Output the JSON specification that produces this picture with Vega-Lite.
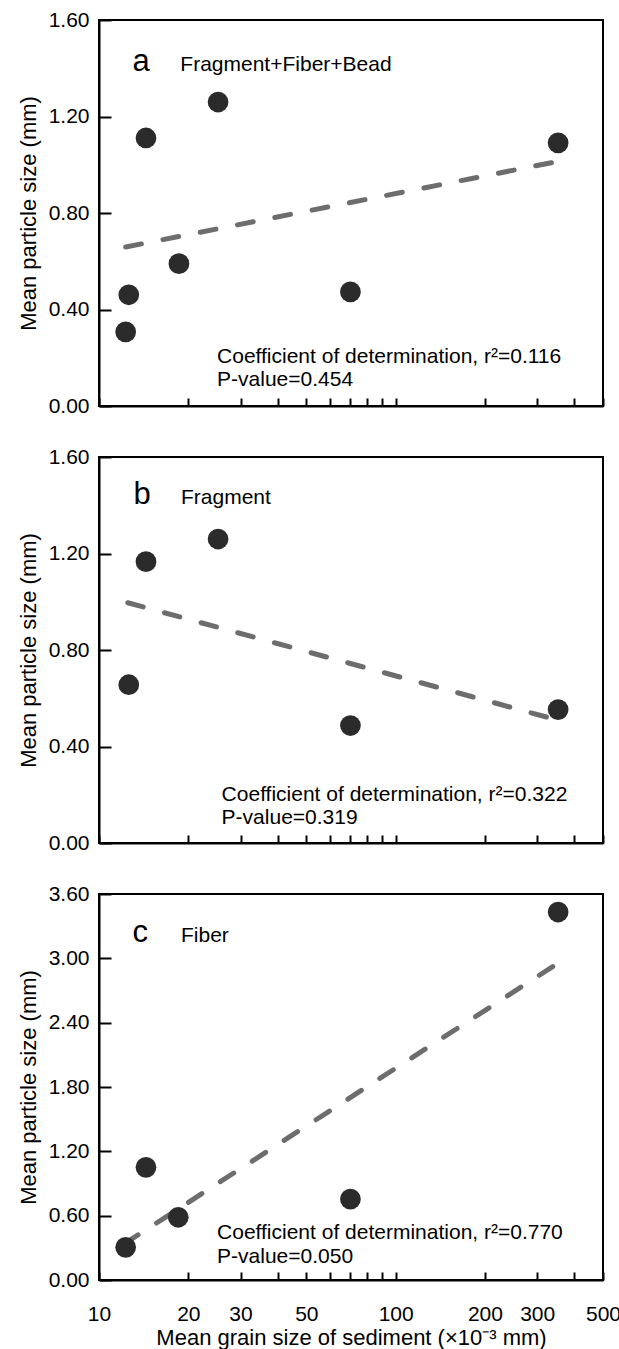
{
  "$schema": "https://vega.github.io/schema/vega-lite/v6.json",
  "padding": {"left": 16, "top": 8, "right": 5, "bottom": 5},
  "background": "white",
  "config": {
    "font": "Liberation Sans",
    "view": {"stroke": "black", "strokeWidth": 2},
    "axis": {
      "labelFont": "Liberation Sans", "labelFontSize": 21, "labelColor": "black",
      "titleFont": "Liberation Sans", "titleFontSize": 22, "titleFontWeight": "normal", "titleColor": "black",
      "domainColor": "black", "domainWidth": 2, "tickColor": "black", "tickWidth": 2, "grid": false
    },
    "concat": {"spacing": 28}
  },
  "datasets": {
    "points": [
      {"panel": "a", "x": 12.3, "y": 0.307},
      {"panel": "a", "x": 12.6, "y": 0.461},
      {"panel": "a", "x": 14.4, "y": 1.111},
      {"panel": "a", "x": 18.6, "y": 0.590},
      {"panel": "a", "x": 25.2, "y": 1.260},
      {"panel": "a", "x": 70.4, "y": 0.473},
      {"panel": "a", "x": 353, "y": 1.091},
      {"panel": "b", "x": 12.6, "y": 0.656},
      {"panel": "b", "x": 14.4, "y": 1.166},
      {"panel": "b", "x": 25.2, "y": 1.260},
      {"panel": "b", "x": 70.4, "y": 0.487},
      {"panel": "b", "x": 353, "y": 0.553},
      {"panel": "c", "x": 12.3, "y": 0.305},
      {"panel": "c", "x": 14.4, "y": 1.051},
      {"panel": "c", "x": 18.5, "y": 0.585},
      {"panel": "c", "x": 70.4, "y": 0.755},
      {"panel": "c", "x": 353, "y": 3.432}
    ],
    "fits": [
      {"panel": "a", "x": 12.3, "y": 0.659},
      {"panel": "a", "x": 353, "y": 1.014},
      {"panel": "b", "x": 12.5, "y": 0.996},
      {"panel": "b", "x": 353, "y": 0.509},
      {"panel": "c", "x": 12.2, "y": 0.339},
      {"panel": "c", "x": 353, "y": 2.956}
    ],
    "labels": [
      {"panel": "a", "kind": "letter", "x": 12.98, "y": 1.39, "text": "a"},
      {"panel": "a", "kind": "note", "x": 18.8, "y": 1.39, "text": "Fragment+Fiber+Bead"},
      {"panel": "a", "kind": "note", "x": 25.0, "y": 0.1795, "text": "Coefficient of determination, r²=0.116"},
      {"panel": "a", "kind": "note", "x": 25.0, "y": 0.083, "text": "P-value=0.454"},
      {"panel": "b", "kind": "letter", "x": 13.06, "y": 1.407, "text": "b"},
      {"panel": "b", "kind": "note", "x": 18.9, "y": 1.407, "text": "Fragment"},
      {"panel": "b", "kind": "note", "x": 25.9, "y": 0.1736, "text": "Coefficient of determination, r²=0.322"},
      {"panel": "b", "kind": "note", "x": 25.9, "y": 0.0772, "text": "P-value=0.319"},
      {"panel": "c", "kind": "letter", "x": 12.98, "y": 3.15, "text": "c"},
      {"panel": "c", "kind": "note", "x": 18.9, "y": 3.15, "text": "Fiber"},
      {"panel": "c", "kind": "note", "x": 25.0, "y": 0.382, "text": "Coefficient of determination, r²=0.770"},
      {"panel": "c", "kind": "note", "x": 25.0, "y": 0.1585, "text": "P-value=0.050"}
    ]
  },
  "vconcat": [
    {
      "width": 504, "height": 386,
      "encoding": {
        "x": {"field": "x", "type": "quantitative", "scale": {"type": "log", "domain": [10, 500], "nice": false},
          "axis": {"values": [10,20,30,40,50,60,70,80,90,100,200,300,400,500], "labels": false, "title": null, "tickSize": -8,
            "encode": {"ticks": {"update": {"y2": {"signal": "datum.value === 100 ? -12 : -8"}}}}}},
        "y": {"field": "y", "type": "quantitative", "scale": {"domain": [0, 1.6], "nice": false, "zero": false},
          "axis": {"values": [0, 0.4, 0.8, 1.2, 1.6], "format": ".2f", "title": "Mean particle size (mm)", "tickSize": -12, "labelPadding": 22, "titlePadding": 8}}
      },
      "layer": [
        {"data": {"name": "fits"}, "transform": [{"filter": "datum.panel == 'a'"}],
          "mark": {"type": "line", "color": "#6d6d6d", "strokeWidth": 5, "strokeDash": [16, 22], "strokeCap": "round"}},
        {"data": {"name": "points"}, "transform": [{"filter": "datum.panel == 'a'"}],
          "mark": {"type": "circle", "size": 430, "color": "#2b2b2b", "opacity": 1}},
        {"data": {"name": "labels"}, "transform": [{"filter": "datum.panel == 'a' && datum.kind == 'letter'"}],
          "mark": {"type": "text", "align": "left", "baseline": "alphabetic", "fontSize": 31, "font": "Liberation Sans", "color": "black"},
          "encoding": {"text": {"field": "text"}}},
        {"data": {"name": "labels"}, "transform": [{"filter": "datum.panel == 'a' && datum.kind == 'note'"}],
          "mark": {"type": "text", "align": "left", "baseline": "alphabetic", "fontSize": 21, "font": "Liberation Sans", "color": "black"},
          "encoding": {"text": {"field": "text"}}}
      ]
    },
    {
      "width": 504, "height": 386,
      "encoding": {
        "x": {"field": "x", "type": "quantitative", "scale": {"type": "log", "domain": [10, 500], "nice": false},
          "axis": {"values": [10,20,30,40,50,60,70,80,90,100,200,300,400,500], "labels": false, "title": null, "tickSize": -8,
            "encode": {"ticks": {"update": {"y2": {"signal": "datum.value === 100 ? -12 : -8"}}}}}},
        "y": {"field": "y", "type": "quantitative", "scale": {"domain": [0, 1.6], "nice": false, "zero": false},
          "axis": {"values": [0, 0.4, 0.8, 1.2, 1.6], "format": ".2f", "title": "Mean particle size (mm)", "tickSize": -12, "labelPadding": 22, "titlePadding": 8}}
      },
      "layer": [
        {"data": {"name": "fits"}, "transform": [{"filter": "datum.panel == 'b'"}],
          "mark": {"type": "line", "color": "#6d6d6d", "strokeWidth": 5, "strokeDash": [16, 22], "strokeCap": "round"}},
        {"data": {"name": "points"}, "transform": [{"filter": "datum.panel == 'b'"}],
          "mark": {"type": "circle", "size": 430, "color": "#2b2b2b", "opacity": 1}},
        {"data": {"name": "labels"}, "transform": [{"filter": "datum.panel == 'b' && datum.kind == 'letter'"}],
          "mark": {"type": "text", "align": "left", "baseline": "alphabetic", "fontSize": 31, "font": "Liberation Sans", "color": "black"},
          "encoding": {"text": {"field": "text"}}},
        {"data": {"name": "labels"}, "transform": [{"filter": "datum.panel == 'b' && datum.kind == 'note'"}],
          "mark": {"type": "text", "align": "left", "baseline": "alphabetic", "fontSize": 21, "font": "Liberation Sans", "color": "black"},
          "encoding": {"text": {"field": "text"}}}
      ]
    },
    {
      "width": 504, "height": 386,
      "encoding": {
        "x": {"field": "x", "type": "quantitative", "scale": {"type": "log", "domain": [10, 500], "nice": false},
          "axis": {"values": [10,20,30,40,50,60,70,80,90,100,200,300,400,500],
            "labelExpr": "indexof([10,20,30,50,100,200,300,500], datum.value) >= 0 ? format(datum.value, 'd') : ''",
            "labelOverlap": false, "labelFlush": false, "labelBound": false,
            "title": "Mean grain size of sediment (×10⁻³ mm)", "tickSize": -8, "labelPadding": 31, "titlePadding": 3,
            "encode": {"ticks": {"update": {"y2": {"signal": "datum.value === 100 ? -12 : -8"}}}}}},
        "y": {"field": "y", "type": "quantitative", "scale": {"domain": [0, 3.6], "nice": false, "zero": false},
          "axis": {"values": [0, 0.6, 1.2, 1.8, 2.4, 3.0, 3.6], "format": ".2f", "title": "Mean particle size (mm)", "tickSize": -12, "labelPadding": 22, "titlePadding": 8}}
      },
      "layer": [
        {"data": {"name": "fits"}, "transform": [{"filter": "datum.panel == 'c'"}],
          "mark": {"type": "line", "color": "#6d6d6d", "strokeWidth": 5, "strokeDash": [16, 22], "strokeCap": "round"}},
        {"data": {"name": "points"}, "transform": [{"filter": "datum.panel == 'c'"}],
          "mark": {"type": "circle", "size": 430, "color": "#2b2b2b", "opacity": 1}},
        {"data": {"name": "labels"}, "transform": [{"filter": "datum.panel == 'c' && datum.kind == 'letter'"}],
          "mark": {"type": "text", "align": "left", "baseline": "alphabetic", "fontSize": 31, "font": "Liberation Sans", "color": "black"},
          "encoding": {"text": {"field": "text"}}},
        {"data": {"name": "labels"}, "transform": [{"filter": "datum.panel == 'c' && datum.kind == 'note'"}],
          "mark": {"type": "text", "align": "left", "baseline": "alphabetic", "fontSize": 21, "font": "Liberation Sans", "color": "black"},
          "encoding": {"text": {"field": "text"}}}
      ]
    }
  ]
}
